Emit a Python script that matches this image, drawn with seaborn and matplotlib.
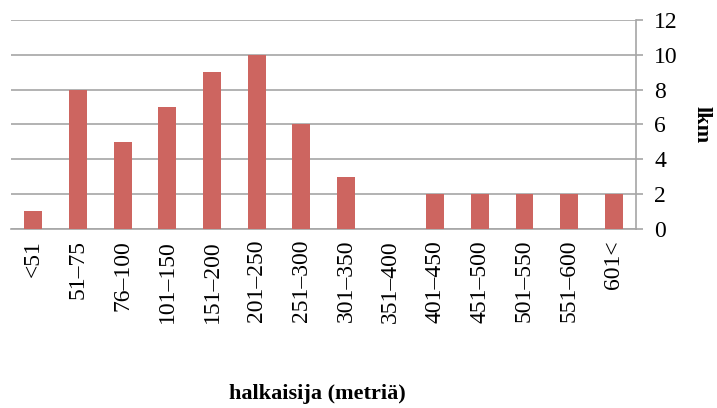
import numpy as np
import pandas as pd
import matplotlib
matplotlib.use("Agg")
import matplotlib.pyplot as plt
import seaborn as sns

# diameter classes (metres) and number of sites
categories = ["<51", "51–75", "76–100", "101–150", "151–200", "201–250", "251–300",
              "301–350", "351–400", "401–450", "451–500", "501–550", "551–600", "601<"]
counts = [1, 8, 5, 7, 9, 10, 6, 3, 0, 2, 2, 2, 2, 2]
y_ticks = [0, 2, 4, 6, 8, 10, 12]

df = pd.DataFrame({"luokka": categories, "lkm": counts})

sns.set_style("white")
plt.rcParams['font.family'] = ['Liberation Serif', 'DejaVu Serif']
plt.rcParams['text.color'] = 'black'
plt.rcParams['xtick.labelcolor'] = 'black'
plt.rcParams['ytick.labelcolor'] = 'black'
plt.rcParams['axes.labelcolor'] = 'black'

fig = plt.figure(figsize=(7.17, 4.08), dpi=100)
ax = fig.add_axes([0.0153, 0.439, 0.872, 0.512])

grid_col = '#A6A6A6'
sns.barplot(data=df, x="luokka", y="lkm", color='#CD6560', saturation=1,
            width=0.4, linewidth=0, ax=ax, zorder=3)

ax.set_ylim(0, 12)
ax.set_xlim(-0.5, len(categories) - 0.5)
ax.set_yticks(y_ticks)
ax.yaxis.tick_right()
ax.yaxis.set_label_position("right")
ax.grid(axis='y', color=grid_col, linewidth=1.2, zorder=0)
ax.set_axisbelow(True)

# ticks between categories
ax.set_xticks(np.arange(len(categories)))
ax.set_xticklabels(categories, rotation=90, fontsize=17)
ax.set_xticks(np.arange(-0.5, len(categories)), minor=True)
ax.tick_params(axis='x', which='major', length=0, pad=8)
ax.tick_params(axis='x', which='minor', length=5, width=1.2, color=grid_col, direction='out')
ax.tick_params(axis='y', length=5, width=1.2, color=grid_col, direction='out',
               labelsize=17, pad=8, right=True, left=False)

for side in ['top', 'left']:
    ax.spines[side].set_visible(False)
for side in ['bottom', 'right']:
    ax.spines[side].set_color(grid_col)
    ax.spines[side].set_linewidth(1.2)

ax.set_ylabel("lkm", fontsize=16, fontweight='bold', rotation=270, labelpad=24)
ax.set_xlabel("")
fig.text(0.443, 0.035, "halkaisija (metriä)", fontsize=16, fontweight='bold',
         ha='center', va='center')

fig.savefig("out.png", dpi=100)
plt.close(fig)
